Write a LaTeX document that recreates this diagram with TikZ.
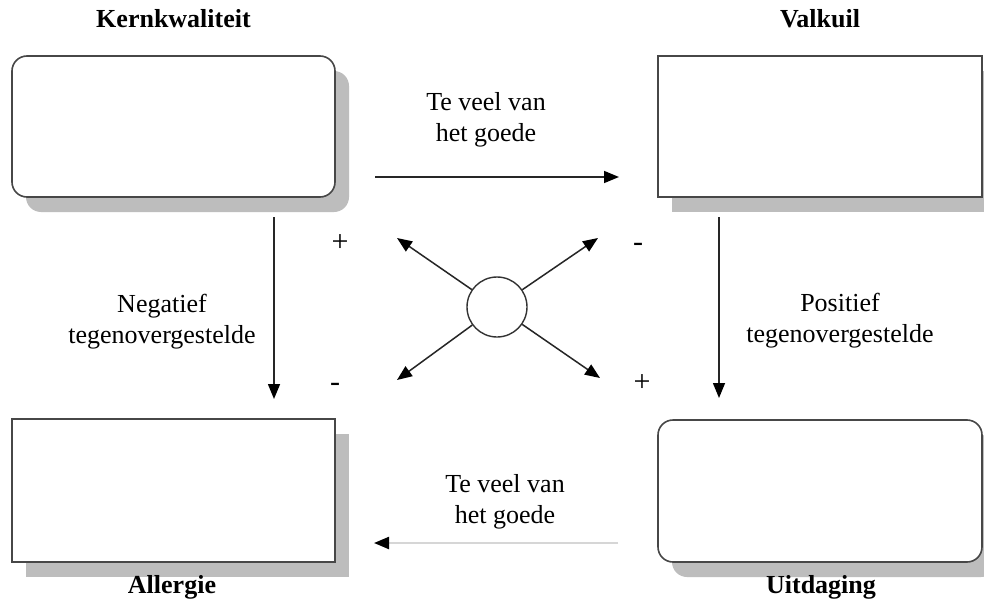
\documentclass[tikz,border=0pt]{standalone}
\usepackage{fontspec}
\setmainfont{Liberation Serif}
\usetikzlibrary{arrows.meta,shadows}
\begin{document}
\begin{tikzpicture}[x=1pt,y=-1pt,
  box/.style={draw=black!72, line width=1.6pt, fill=white, inner sep=0pt,
    drop shadow={shadow xshift=14pt, shadow yshift=-15pt, fill=black!26, opacity=1}},
  rbox/.style={box, rounded corners=15pt},
  lbl/.style={font=\fontsize{26}{31}\selectfont, align=center, inner sep=0pt},
  ttl/.style={font=\fontsize{26}{31}\selectfont\bfseries, inner sep=0pt, anchor=base},
  sgn/.style={font=\fontsize{30}{34}\selectfont, inner sep=0pt},
  tip/.style={-{Triangle[length=15pt,width=12pt,fill=black,color=black]}},
  arr/.style={draw=black!85, line width=1.5pt, tip},
]
\useasboundingbox[fill=white] (0,0) rectangle (984,599);

% boxes
\node[rbox, minimum width=323pt, minimum height=141pt] (kern) at (173.5,126.5) {};
\node[box, minimum width=324pt, minimum height=141pt] (valk) at (820,126.5) {};
\node[box, minimum width=323pt, minimum height=143pt] (allg) at (173.5,490.5) {};
\node[rbox, minimum width=324pt, minimum height=142pt] (uitd) at (820,491) {};

% titles
\node[ttl] (tkern) at (173.5,28) {Kernkwaliteit};
\node[ttl] (tvalk) at (820,28) {Valkuil};
\node[ttl] (tallg) at (172,593) {Allergie};
\node[ttl] (tuitd) at (821,593) {Uitdaging};

% horizontal arrows
\coordinate (h1s) at (375,177);
\coordinate (h1e) at (619,177);
\draw[arr] (h1s) -- (h1e);
\node[lbl] (lt) at (486,120) {Te veel van\\het goede};

\coordinate (h2s) at (618,543);
\coordinate (h2e) at (374,543);
\draw[draw=black!16, line width=2.2pt, tip] (h2s) -- (h2e);
\node[lbl] (lb) at (505,502) {Te veel van\\het goede};

% vertical arrows
\coordinate (v1s) at (274,217);
\coordinate (v1e) at (274,399);
\draw[arr] (v1s) -- (v1e);
\node[lbl] (ll) at (162,321.5) {Negatief\\tegenovergestelde};

\coordinate (v2s) at (719,217);
\coordinate (v2e) at (719,398);
\draw[arr] (v2s) -- (v2e);
\node[lbl] (lr) at (840,321) {Positief\\tegenovergestelde};

% centre circle
\node[circle, draw=black!80, line width=1.4pt, minimum size=60pt, inner sep=0pt] (c) at (497,307) {};
\coordinate (ul) at (397,238);
\coordinate (ur) at (598,238);
\coordinate (dl) at (397,380);
\coordinate (dr) at (600,378);
\draw[arr] (c) -- (ul);
\draw[arr] (c) -- (ur);
\draw[arr] (c) -- (dl);
\draw[arr] (c) -- (dr);

% signs
\node[sgn] (s1) at (340,243) {+};
\node[sgn] (s2) at (638,247) {-};
\node[sgn] (s3) at (335,387) {-};
\node[sgn] (s4) at (642,383) {+};
\end{tikzpicture}
\end{document}
